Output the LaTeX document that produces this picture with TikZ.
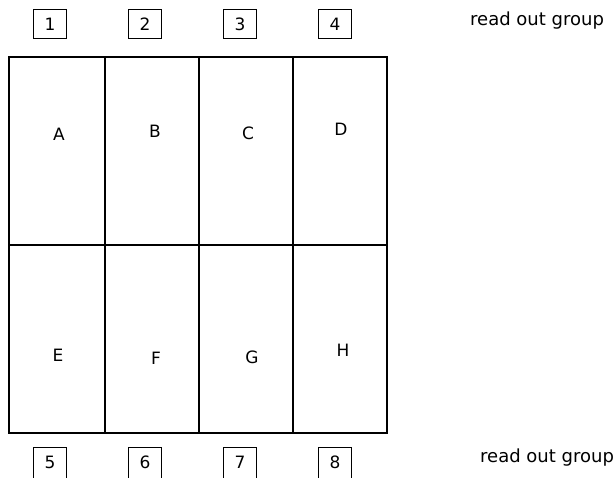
\documentclass[tikz,border=0pt]{standalone}
\usepackage{fontspec}
\setmainfont{DejaVu Sans}
\usetikzlibrary{positioning}

\begin{document}
\begin{tikzpicture}[
    x=1pt, y=-1pt,
    font=\fontsize{17}{20}\selectfont,
    cell/.style={draw, line width=1.4pt, minimum width=94pt, minimum height=188pt, inner sep=0pt, outer sep=0pt},
    port/.style={draw, line width=1pt, minimum width=33pt, minimum height=29pt, inner sep=0pt},
    grp/.style={anchor=base west, inner sep=0pt, font=\fontsize{18}{20}\selectfont}
]
    \useasboundingbox (0,0) rectangle (616,478);

    % Cells
    \node[cell, minimum width=96pt] (cA) at (57,151) {};
    \node[cell, right=0pt of cA] (cB) {};
    \node[cell, right=0pt of cB] (cC) {};
    \node[cell, right=0pt of cC] (cD) {};
    \node[cell, minimum width=96pt, below=0pt of cA] (cE) {};
    \node[cell, below=0pt of cB] (cF) {};
    \node[cell, below=0pt of cC] (cG) {};
    \node[cell, below=0pt of cD] (cH) {};

    % Cell labels
    \node (A) at (59,134) {A};
    \node (B) at (155,131) {B};
    \node (C) at (248,133) {C};
    \node (D) at (341,129) {D};
    \node (E) at (58,355) {E};
    \node (F) at (156,358) {F};
    \node (G) at (252,357) {G};
    \node (H) at (343,350) {H};

    % Read out ports (bottom row runs off the lower edge)
    \node[port] (r1) at (50,24.5) {1};
    \node[port, right=61pt of r1] (r2) {2};
    \node[port, right=61pt of r2] (r3) {3};
    \node[port, right=61pt of r3] (r4) {4};
    \node[port, minimum height=34pt, text depth=3pt] (r5) at (50,464) {5};
    \node[port, minimum height=34pt, text depth=3pt, right=61pt of r5] (r6) {6};
    \node[port, minimum height=34pt, text depth=3pt, right=61pt of r6] (r7) {7};
    \node[port, minimum height=34pt, text depth=3pt, right=61pt of r7] (r8) {8};

    % Group labels
    \node[grp] (grpTop) at (470,26) {read out group};
    \node[grp] (grpBot) at (480,462) {read out group};
\end{tikzpicture}
\end{document}
